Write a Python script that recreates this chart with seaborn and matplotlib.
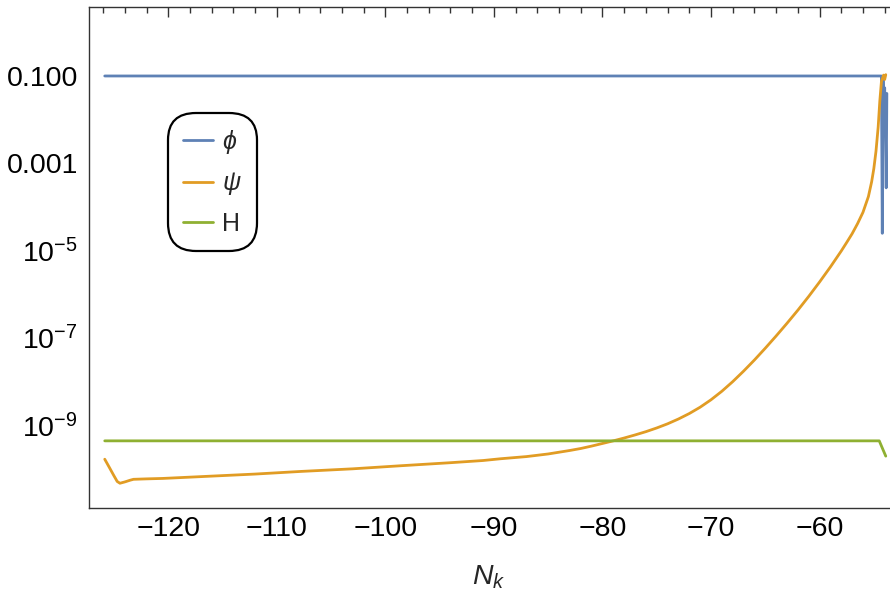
import numpy as np
import pandas as pd
import matplotlib
matplotlib.use("Agg")
import matplotlib.pyplot as plt
import seaborn as sns
from matplotlib.ticker import FixedLocator, FixedFormatter, NullFormatter

# ---- data (y values as log10 exponents) ----
phi_N = [-125.85, -54.3, -54.22, -54.15, -54.08, -54.0, -53.93, -53.86, -53.8]
phi_log10 = [-1.0, -1.0, -4.60, -1.05, -1.9, -1.27, -2.2, -3.56, -1.4]

psi_N = [-125.85, -125.4, -125.0, -124.7, -124.45, -124.0, -123.5, -123.2, -122.0,
         -120.5, -117.1, -112.0, -107.8, -103.0, -98.6, -94.0, -91.0, -89.4, -87.0,
         -86.0, -85.0, -84.0, -83.0, -82.0, -81.0, -80.0, -79.0, -78.0, -77.0,
         -76.0, -75.0, -74.0, -73.0, -72.0, -71.0, -70.0, -69.0, -68.0, -67.0,
         -66.0, -65.0, -64.0, -63.0, -62.0, -61.0, -60.0, -59.0, -58.0, -57.5,
         -57.0, -56.5, -56.0, -55.5, -55.2, -55.0, -54.8, -54.6, -54.45, -54.3,
         -54.1, -54.0, -53.9]
psi_log10 = [-9.77, -9.97, -10.15, -10.28, -10.32, -10.29, -10.25, -10.23, -10.22,
             -10.21, -10.17, -10.11, -10.05, -9.99, -9.92, -9.85, -9.80, -9.76, -9.71,
             -9.68, -9.65, -9.61, -9.57, -9.525, -9.47, -9.41, -9.35, -9.285, -9.215,
             -9.14, -9.055, -8.96, -8.85, -8.725, -8.58, -8.41, -8.215, -7.995, -7.755,
             -7.50, -7.23, -6.95, -6.66, -6.36, -6.045, -5.715, -5.37, -5.005, -4.81,
             -4.61, -4.38, -4.12, -3.76, -3.42, -3.12, -2.72, -2.17, -1.58, -1.13,
             -0.98, -1.08, -0.97]

H_N = [-125.85, -54.5, -53.9]
H_log10 = [-9.35, -9.35, -9.70]

series_names = [r"$\phi$", r"$\psi$", "H"]
colors = ["#5E81B5", "#E19C24", "#8FB032"]

xticks_major = [-120, -110, -100, -90, -80, -70, -60]
ytick_major_vals = [1e-1, 1e-3, 1e-5, 1e-7, 1e-9]
ytick_major_labels = ["0.100", "0.001", r"$\mathregular{10^{-5}}$",
                      r"$\mathregular{10^{-7}}$", r"$\mathregular{10^{-9}}$"]
ytick_minor_vals = [1e0, 1e-2, 1e-4, 1e-6, 1e-8, 1e-10]

frames = []
for name, N, lv in zip(series_names, [phi_N, psi_N, H_N], [phi_log10, psi_log10, H_log10]):
    frames.append(pd.DataFrame({"N": N, "val": 10.0 ** np.array(lv), "series": name}))
df = pd.concat(frames, ignore_index=True)

# ---- style ----
sns.set_theme(style="white")
plt.rcParams["font.family"] = ["Liberation Sans", "DejaVu Sans"]
plt.rcParams["mathtext.fontset"] = "custom"
plt.rcParams["mathtext.rm"] = "Liberation Sans"
plt.rcParams["mathtext.it"] = "Liberation Sans:italic"
plt.rcParams["mathtext.default"] = "it"

fig = plt.figure(figsize=(8.9, 5.96), dpi=100)
ax = fig.add_axes([0.1, 0.1477, 0.8989, 0.8411])

sns.lineplot(data=df, x="N", y="val", hue="series", palette=colors,
             hue_order=series_names, sort=False, estimator=None,
             linewidth=2.0, ax=ax, legend=True)

ax.set_yscale("log")
ax.set_xlim(-127.3, -53.6)
ax.set_ylim(10 ** -10.886, 10 ** 0.586)

ax.xaxis.set_major_locator(FixedLocator(xticks_major))
ax.xaxis.set_minor_locator(FixedLocator(np.arange(-126, -53, 2)))
ax.set_xticklabels([f"\u2212{abs(v)}" for v in xticks_major])

ax.yaxis.set_major_locator(FixedLocator(ytick_major_vals))
ax.yaxis.set_major_formatter(FixedFormatter(ytick_major_labels))
ax.yaxis.set_minor_locator(FixedLocator(ytick_minor_vals))
ax.yaxis.set_minor_formatter(NullFormatter())

spine_col = "#333333"
for s in ["left", "bottom", "top"]:
    ax.spines[s].set_visible(True)
    ax.spines[s].set_color(spine_col)
    ax.spines[s].set_linewidth(1.0)
ax.spines["right"].set_visible(False)

ax.tick_params(axis="both", which="both", direction="in", top=True, right=False,
               color=spine_col, width=1.0, labelsize=20.5, labelcolor="black")
ax.tick_params(axis="x", which="major", length=7, pad=6)
ax.tick_params(axis="x", which="minor", length=4)
ax.tick_params(axis="y", which="major", length=7, pad=8)
ax.tick_params(axis="y", which="minor", length=6)

ax.set_xlabel(r"$N_k$", fontsize=20.5, labelpad=15)
ax.set_ylabel("")

# legend
handles, labels = ax.get_legend_handles_labels()
leg = ax.legend(handles, labels, loc="upper left", bbox_to_anchor=(0.093, 0.798),
                fontsize=18, frameon=True, handlelength=1.2, handletextpad=0.35,
                labelspacing=0.58, borderpad=0.3, fancybox=True)
frame = leg.get_frame()
frame.set_edgecolor("black")
frame.set_linewidth(1.6)
frame.set_facecolor("white")
frame.set_alpha(1.0)
frame.set_boxstyle("round,pad=0.3,rounding_size=1.1")
for line in leg.get_lines():
    line.set_linewidth(2.0)

fig.savefig("out.png", dpi=100)
